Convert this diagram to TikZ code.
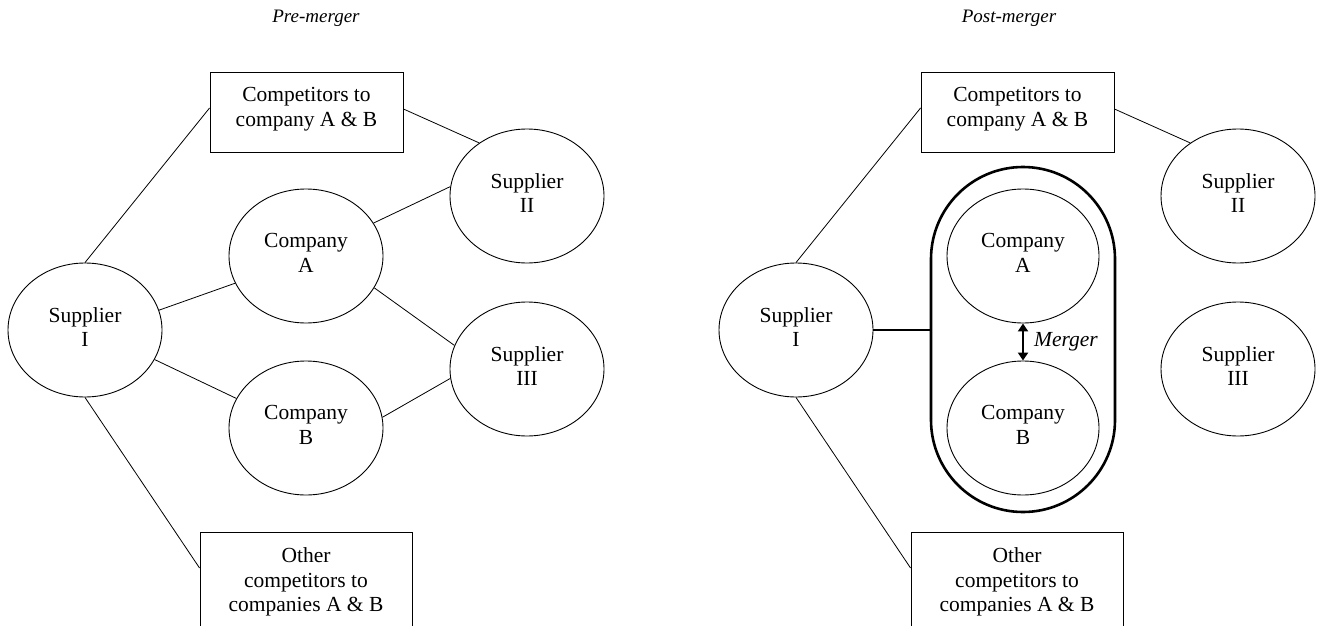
\documentclass[tikz,border=0pt]{standalone}
\usepackage{fontspec}
\setmainfont{Liberation Serif}
\usetikzlibrary{shapes.geometric,arrows.meta}
\newcommand\dgfont{\fontsize{21.5}{24.5}\selectfont}
\newcommand\dgtitlefont{\fontsize{19}{22}\selectfont\itshape}
\begin{document}
\begin{tikzpicture}[x=1pt,y=-1pt,
  ell/.style={draw, ellipse, line width=0.9pt, minimum width=154pt, minimum height=134pt, inner sep=0pt, align=center, font=\dgfont, text depth=6pt},
  boxnode/.style={draw, rectangle, line width=0.9pt, inner sep=0pt, align=center, font=\dgfont},
  conn/.style={line width=0.8pt},
  thickconn/.style={line width=2pt},
  capsule/.style={draw, rectangle, rounded corners=92pt, line width=2.6pt, minimum width=184pt, minimum height=345pt, inner sep=0pt},
  ttl/.style={font=\dgtitlefont, inner sep=0pt}]
\useasboundingbox (0,0) rectangle (1317,626);
\clip (0,0) rectangle (1317,626);

% ---------- Pre-merger ----------
\node[ttl] (t1) at (316,18) {Pre-merger};
\node[ell] (s1L) at (85,330) {Supplier\\I};
\node[ell] (aL) at (306,256) {Company\\A};
\node[ell] (bL) at (306,428) {Company\\B};
\node[ell] (s2L) at (527,196) {Supplier\\II};
\node[ell] (s3L) at (527,369) {Supplier\\III};
\node[boxnode, minimum width=193pt, minimum height=80pt, text depth=10pt] (c1L) at (306.5,112) {Competitors to\\company A \& B};
\node[boxnode, minimum width=212pt, minimum height=100pt] (c2L) at (306,582) {Other\\competitors to\\companies A \& B};

\draw[conn] (s1L.north) -- ([yshift=4pt]c1L.west);
\draw[conn] ([yshift=3pt]c1L.east) -- (s2L.132);
\draw[conn] (aL.26) -- (s2L.173);
\draw[conn] (aL.-25) -- (s3L.162);
\draw[conn] (s1L.15) -- (aL.201);
\draw[conn] (s1L.-23) -- (bL.157);
\draw[conn] (bL.8) -- (s3L.187);
\draw[conn] (s1L.south) -- ([yshift=14pt]c2L.west);

% ---------- Post-merger ----------
\node[ttl] (t2) at (1009,18) {Post-merger};
\node[ell] (s1R) at (796,330) {Supplier\\I};
\node[capsule] (cap) at (1023,339.5) {};
\node[ell, minimum width=152pt] (aR) at (1023,256) {Company\\A};
\node[ell, minimum width=152pt] (bR) at (1023,428) {Company\\B};
\node[ell] (s2R) at (1238,196) {Supplier\\II};
\node[ell] (s3R) at (1238,369) {Supplier\\III};
\node[boxnode, minimum width=193pt, minimum height=80pt, text depth=10pt] (c1R) at (1017.5,112) {Competitors to\\company A \& B};
\node[boxnode, minimum width=212pt, minimum height=100pt] (c2R) at (1017,582) {Other\\competitors to\\companies A \& B};

\draw[conn] (s1R.north) -- ([yshift=4pt]c1R.west);
\draw[conn] ([yshift=3pt]c1R.east) -- (s2R.132);
\draw[conn] (s1R.south) -- ([yshift=14pt]c2R.west);
\draw[thickconn] (s1R.east) -- (s1R.east -| cap.west);
\draw[line width=2.2pt, {Triangle[length=8pt,width=10pt]}-{Triangle[length=8pt,width=10pt]}] (aR.south) -- (bR.north)
  node[midway, right=10pt, font=\dgfont\itshape, inner sep=0pt] (mg) {Merger};
\end{tikzpicture}
\end{document}
